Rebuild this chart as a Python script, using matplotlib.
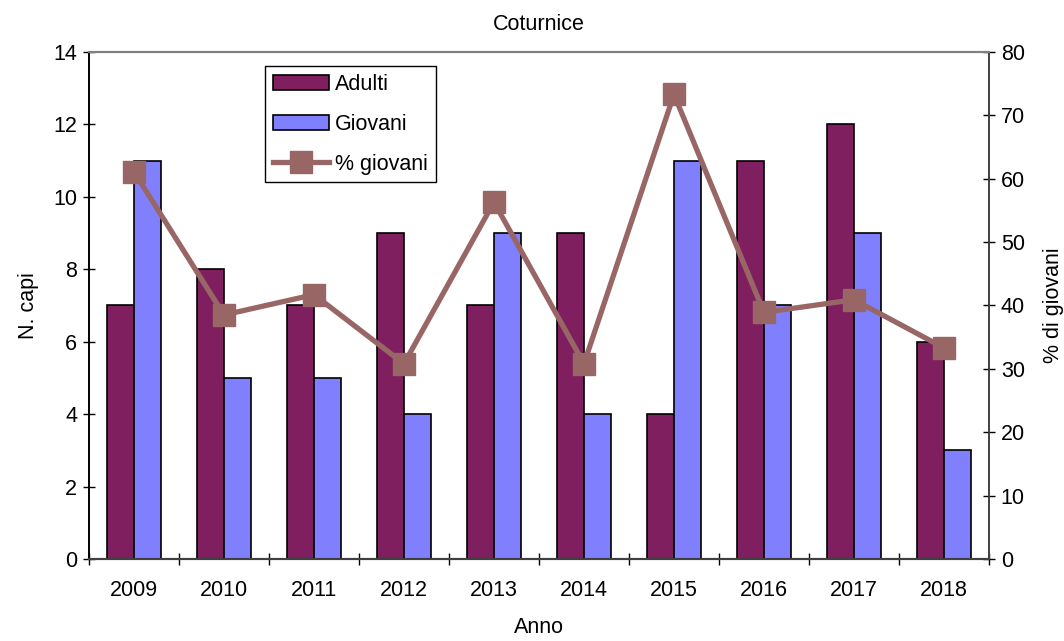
import numpy as np
import matplotlib.pyplot as plt
from matplotlib.ticker import MultipleLocator

plt.rcParams['font.family'] = ['Liberation Sans', 'DejaVu Sans']

# dati
anni = ['2009', '2010', '2011', '2012', '2013', '2014', '2015', '2016', '2017', '2018']
adulti = [7, 8, 7, 9, 7, 9, 4, 11, 12, 6]
giovani = [11, 5, 5, 4, 9, 4, 11, 7, 9, 3]
perc_giovani = [61.1, 38.5, 41.7, 30.8, 56.3, 30.8, 73.3, 38.9, 40.9, 33.3]

fs = 15.5

fig = plt.figure(figsize=(10.64, 6.41), dpi=100)
ax = fig.add_axes([0.0836, 0.128, 0.8459, 0.791])
x = np.arange(len(anni))
w = 0.3

b1 = ax.bar(x - w/2, adulti, w, color='#7F1F5F', edgecolor='black', linewidth=1.2, label='Adulti')
b2 = ax.bar(x + w/2, giovani, w, color='#8080FF', edgecolor='black', linewidth=1.2, label='Giovani')

ax.set_xlim(-0.5, len(anni) - 0.5)
ax.set_ylim(0, 14)
ax.yaxis.set_major_locator(MultipleLocator(2))
ax.set_xticks(x)
ax.set_xticklabels(anni)
ax.set_xticks(np.arange(-0.5, len(anni)), minor=True)
ax.tick_params(axis='x', which='major', length=0, labelsize=fs, pad=15)
ax.tick_params(axis='x', which='minor', length=9, direction='inout', width=1)
ax.tick_params(axis='y', labelsize=fs, direction='inout', length=9, width=1, pad=4)
ax.set_ylabel('N. capi', fontsize=fs, labelpad=10)
ax.set_xlabel('Anno', fontsize=fs, labelpad=12)
ax.set_title('Coturnice', fontsize=fs, pad=16)

ax2 = ax.twinx()
l1, = ax2.plot(x, perc_giovani, color='#996666', linewidth=3.8, marker='s', markersize=16,
               label='% giovani')
ax2.set_ylim(0, 80)
ax2.yaxis.set_major_locator(MultipleLocator(10))
ax2.tick_params(axis='y', labelsize=fs, direction='inout', length=9, width=1, pad=4)
ax2.set_ylabel('% di giovani', fontsize=fs, labelpad=13)

for a in (ax, ax2):
    a.spines['top'].set_color('#808080')
    a.spines['top'].set_linewidth(1.5)
    a.spines['bottom'].set_color('#404040')
    a.spines['bottom'].set_linewidth(1.5)
    a.spines['left'].set_linewidth(1.2)
    a.spines['right'].set_linewidth(1.2)
    a.spines['right'].set_color('#404040')

leg = ax2.legend([b1, b2, l1], ['Adulti', 'Giovani', '% giovani'], loc='upper left',
                 bbox_to_anchor=(0.196, 0.972), fontsize=fs, frameon=True, fancybox=False,
                 edgecolor='black', framealpha=1, borderpad=0.35, labelspacing=0.88,
                 handlelength=2.6, handletextpad=0.3, borderaxespad=0)
leg.get_frame().set_linewidth(1.0)

fig.savefig('out.png', dpi=100)
